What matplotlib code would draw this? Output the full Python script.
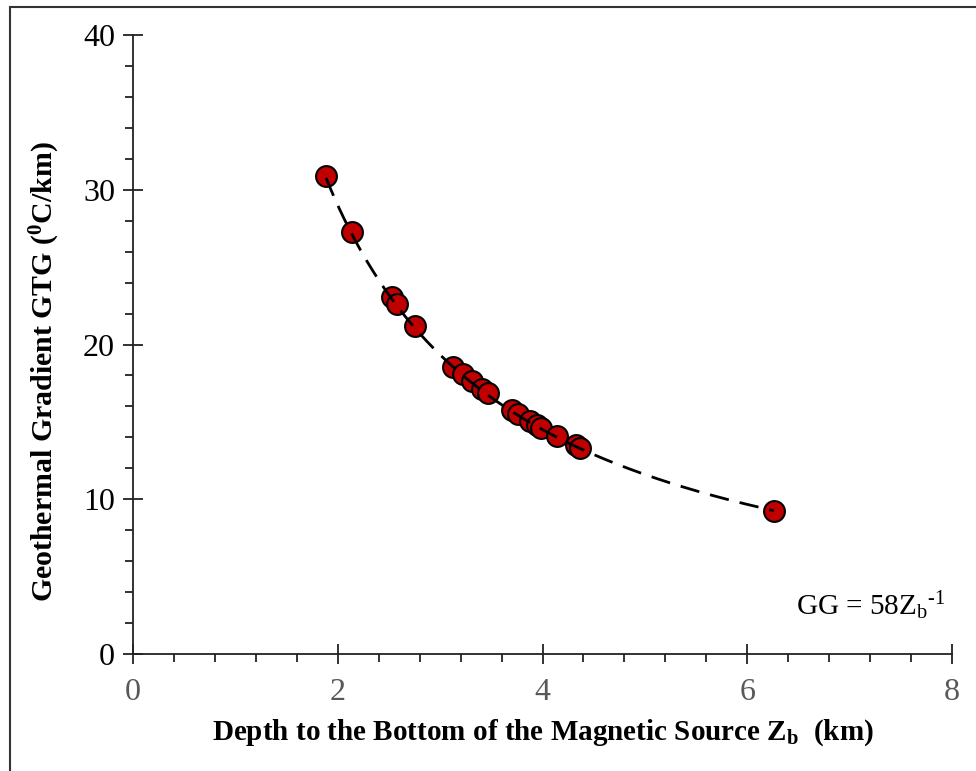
import numpy as np
import matplotlib
matplotlib.use("Agg")
import matplotlib.pyplot as plt
from matplotlib.ticker import MultipleLocator
from matplotlib.patches import Rectangle

plt.rcParams["font.family"] = ["Liberation Serif", "DejaVu Serif"]
plt.rcParams["mathtext.fontset"] = "custom"
plt.rcParams["mathtext.rm"] = "Liberation Serif"
plt.rcParams["mathtext.it"] = "Liberation Serif:italic"
plt.rcParams["mathtext.bf"] = "Liberation Serif:bold"

# Depth to the bottom of the magnetic source (km) and geothermal gradient (degC/km)
depth_zb = [1.885, 2.139, 2.529, 2.578, 2.754, 3.125, 3.223, 3.311, 3.408, 3.467,
            3.701, 3.760, 3.877, 3.945, 3.984, 4.141, 4.326, 4.365, 6.260]
gradient = [30.89, 27.27, 23.07, 22.62, 21.20, 18.55, 18.09, 17.64, 17.12, 16.87,
            15.77, 15.51, 15.06, 14.80, 14.60, 14.09, 13.51, 13.31, 9.24]

# Fitted power law GG = a * Zb^-1
fit_coef = 58.0
fit_x = np.linspace(min(depth_zb), max(depth_zb), 300)
fit_y = fit_coef / fit_x

x_ticks = [0, 2, 4, 6, 8]
y_ticks = [0, 10, 20, 30, 40]

fig = plt.figure(figsize=(9.76, 7.71), dpi=100)
ax = fig.add_axes([133 / 976, 1 - 654 / 771, (952 - 133) / 976, (654 - 35) / 771])

ax.scatter(depth_zb, gradient, s=15 ** 2, facecolor="#C00000", edgecolor="black",
           linewidth=1.5, zorder=3)
ax.plot(fit_x, fit_y, color="black", linewidth=2, dashes=(7, 4), zorder=4)

ax.set_xlim(0, 8)
ax.set_ylim(0, 40)
ax.set_xticks(x_ticks)
ax.set_yticks(y_ticks)
ax.xaxis.set_minor_locator(MultipleLocator(0.4))
ax.yaxis.set_minor_locator(MultipleLocator(2))

for side in ("top", "right"):
    ax.spines[side].set_visible(False)
for side in ("left", "bottom"):
    ax.spines[side].set_linewidth(1.3)
    ax.spines[side].set_color("#222222")

ax.tick_params(axis="both", which="major", direction="inout", length=14, width=1.3,
               color="#222222", labelsize=23)
ax.tick_params(axis="both", which="minor", direction="out", length=6, width=1.3,
               color="#222222")
ax.tick_params(axis="x", which="major", labelcolor="#595959", pad=10)
ax.tick_params(axis="y", which="major", labelcolor="black", pad=6)

ax.set_xlabel(r"Depth to the Bottom of the Magnetic Source Z$_{\mathbf{b}}$  (km)",
              fontsize=21, fontweight="bold", labelpad=8)
ax.set_ylabel(r"Geothermal Gradient GTG ($^{\mathbf{0}}$C/km)",
              fontsize=21.5, fontweight="bold")
ax.yaxis.set_label_coords(-0.087, 0.457)

ax.text(0.991, 0.063, "GG = 58Z$_{\\mathrm{b}}{}^{\\mathrm{\u2010}\\mathrm{1}}$",
        transform=ax.transAxes, ha="right", va="baseline", fontsize=21)

# Outer frame around the figure
fig.patches.append(Rectangle((10 / 976, -0.01), 1.02, 1 - 7 / 771 + 0.01,
                             transform=fig.transFigure, fill=False,
                             edgecolor="#333333", linewidth=1.5))

fig.savefig("out.png", dpi=100)
